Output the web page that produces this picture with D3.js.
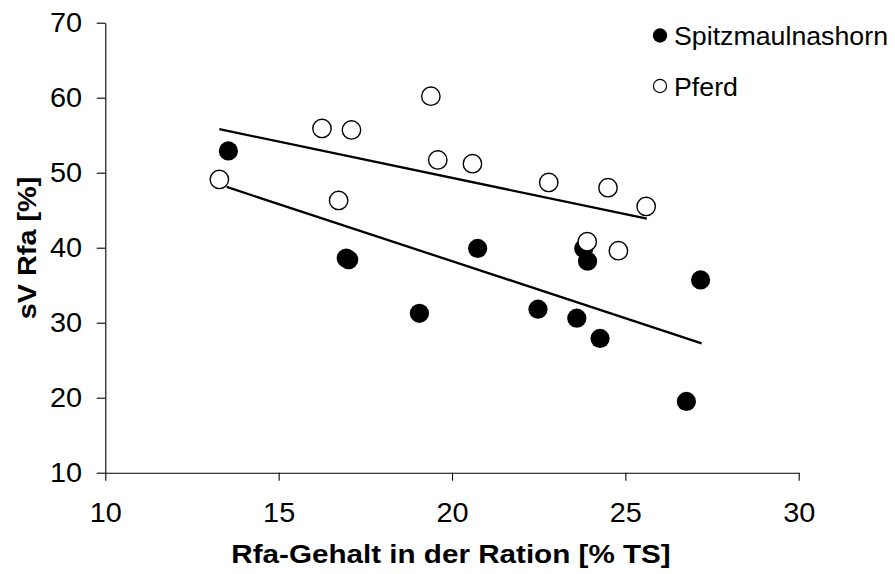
<!DOCTYPE html>
<html>
<head>
<meta charset="utf-8">
<script src="https://cdn.jsdelivr.net/npm/d3@7"></script>
<style>
body { margin: 0; background: #fff; }
text { font-family: "Liberation Sans", Arial, sans-serif; fill: #000; }
</style>
</head>
<body>
<script>
// Spitzmaulnashorn (filled markers)
var rhinoX = [13.55, 16.95, 17.02, 19.06, 20.74, 22.48, 23.6, 23.8, 23.91, 24.27, 26.76, 27.17];
var rhinoY = [52.9, 38.6, 38.4, 31.25, 39.9, 31.8, 30.6, 39.9, 38.2, 27.9, 19.5, 35.7];
// Pferd (open markers)
var horseX = [13.29, 16.25, 16.73, 17.1, 19.39, 19.59, 20.59, 22.79, 23.9, 24.5, 24.8, 25.6];
var horseY = [49.1, 55.9, 46.3, 55.7, 60.2, 51.7, 51.2, 48.7, 40.8, 48.0, 39.6, 45.5];
// trend lines (start / end)
var rhinoTrendX = [13.5, 27.2];
var rhinoTrendY = [48.1, 27.25];
var horseTrendX = [13.29, 25.62];
var horseTrendY = [55.8, 43.87];
// ticks + labels
var xTicks = [10, 15, 20, 25, 30];
var yTicks = [10, 20, 30, 40, 50, 60, 70];
var seriesNames = ['Spitzmaulnashorn', 'Pferd'];
var xTitle = 'Rfa-Gehalt in der Ration [% TS]';
var yTitle = 'sV Rfa [%]';

var margin = {top: 22.7, left: 105.3},
    width = 693.4,
    height = 450;

var x = d3.scaleLinear().domain([10, 30]).range([0, width]);
var y = d3.scaleLinear().domain([10, 70]).range([height, 0]);

var svg = d3.select('body')
            .append('svg')
            .attr('width', 895)
            .attr('height', 574);
var g = svg.append('g')
           .attr('transform', 'translate(' + margin.left + ',' + margin.top + ')');

// X axis
var gx = g.append('g')
    .attr('transform', 'translate(0,' + height + ')')
    .call(d3.axisBottom(x).tickValues(xTicks).tickSize(8).tickSizeOuter(0).tickFormat(d3.format('d')));
gx.selectAll('text')
    .attr('y', 49).attr('dy', null)
    .attr('font-size', 27)
    .attr('transform', 'scale(1.07,1)');

// Y axis
var gy = g.append('g')
    .call(d3.axisLeft(y).tickValues(yTicks).tickSize(8.6).tickSizeOuter(0).tickFormat(d3.format('d')));
gy.selectAll('text')
    .attr('x', -23.3 / 1.07)
    .attr('font-size', 27)
    .attr('transform', 'scale(1.07,1)');

svg.selectAll('.domain, .tick line').attr('stroke', '#000').attr('stroke-width', 1.1);

// points
function pairs(xs, ys) {
    return xs.map(function(d, i) { return [d, ys[i]]; });
}

g.selectAll('.rhino')
    .data(pairs(rhinoX, rhinoY))
    .enter()
    .append('circle')
    .attr('class', 'rhino')
    .attr('cx', function(d) { return x(d[0]); })
    .attr('cy', function(d) { return y(d[1]); })
    .attr('r', 9.6)
    .attr('fill', '#000');

g.selectAll('.horse')
    .data(pairs(horseX, horseY))
    .enter()
    .append('circle')
    .attr('class', 'horse')
    .attr('cx', function(d) { return x(d[0]); })
    .attr('cy', function(d) { return y(d[1]); })
    .attr('r', 9.2)
    .attr('fill', '#fff')
    .attr('stroke', '#000')
    .attr('stroke-width', 1.4);

// trend lines
var line = d3.line()
    .x(function(d) { return x(d[0]); })
    .y(function(d) { return y(d[1]); });

[pairs(rhinoTrendX, rhinoTrendY), pairs(horseTrendX, horseTrendY)].forEach(function(t) {
    g.append('path')
        .datum(t)
        .attr('d', line)
        .attr('fill', 'none')
        .attr('stroke', '#000')
        .attr('stroke-width', 2.3);
});

// axis titles
svg.append('text')
    .attr('transform', 'translate(451,562.7) scale(1.14,1)')
    .attr('text-anchor', 'middle')
    .attr('font-size', 26)
    .attr('font-weight', 'bold')
    .text(xTitle);

svg.append('text')
    .attr('transform', 'translate(35.5,248) rotate(-90) scale(1.11,1)')
    .attr('text-anchor', 'middle')
    .attr('font-size', 26)
    .attr('font-weight', 'bold')
    .text(yTitle);

// legend
var legend = svg.selectAll('.legend')
    .data(seriesNames)
    .enter()
    .append('g')
    .attr('class', 'legend')
    .attr('transform', function(d, i) { return 'translate(660,' + (35.5 + i * 50.5) + ')'; });
legend.append('circle')
    .attr('r', function(d, i) { return i === 0 ? 7.2 : 6.6; })
    .attr('fill', function(d, i) { return i === 0 ? '#000' : '#fff'; })
    .attr('stroke', '#000')
    .attr('stroke-width', function(d, i) { return i === 0 ? 0 : 1.2; });
legend.append('text')
    .attr('transform', 'translate(14,9.5) scale(1.07,1)')
    .attr('font-size', 25)
    .text(function(d) { return d; });
</script>
</body>
</html>
